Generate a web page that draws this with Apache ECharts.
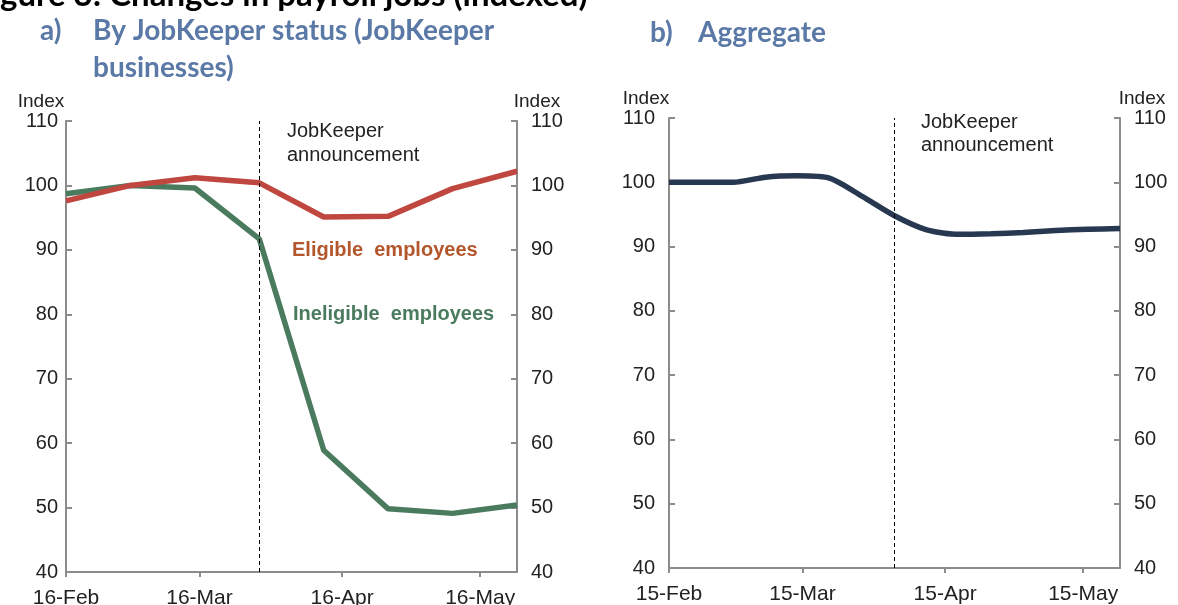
<!DOCTYPE html>
<html>
<head>
<meta charset="utf-8">
<script src="https://cdn.jsdelivr.net/npm/echarts@6/dist/echarts.min.js"></script>
<style>
  html,body{margin:0;padding:0;background:#fff;}
  #main{width:1178px;height:605px;}
</style>
</head>
<body>
<div id="main"></div>
<script>
// panel a) fortnightly, JobKeeper businesses
var datesA = ['2020-02-16','2020-03-01','2020-03-15','2020-03-29','2020-04-12','2020-04-26','2020-05-10','2020-05-24'];
var eligible   = [97.6, 100, 101.2, 100.4, 95.1, 95.2, 99.5, 102.2];
var ineligible = [98.7, 100, 99.6, 91.7, 58.9, 49.8, 49.1, 50.4];
var ticksA = ['2020-02-16','2020-03-16','2020-04-16','2020-05-16'];
var announceA = '2020-03-29';

// panel b) weekly, aggregate
var datesB = ['2020-02-15','2020-02-22','2020-02-29','2020-03-07','2020-03-14','2020-03-21','2020-03-28',
              '2020-04-04','2020-04-11','2020-04-18','2020-04-25','2020-05-02','2020-05-09','2020-05-16','2020-05-23'];
var aggregate = [100, 100, 100, 100.8, 101.0, 100.6, 97.8, 94.8, 92.6, 91.9, 92.0, 92.2, 92.5, 92.7, 92.8];
var ticksB = ['2020-02-15','2020-03-15','2020-04-15','2020-05-15'];
var announceB = '2020-04-04';

var months = ['Jan','Feb','Mar','Apr','May','Jun','Jul','Aug','Sep','Oct','Nov','Dec'];

function day(s, base){
  return Math.round((Date.parse(s) - Date.parse(base)) / 86400000);
}
function pairs(dates, vals){
  return dates.map(function(d, i){ return [day(d, dates[0]), vals[i]]; });
}
function fmt(base){
  return function(v){
    var d = new Date(Date.parse(base) + v * 86400000);
    return d.getUTCDate() + '-' + months[d.getUTCMonth()];
  };
}

var axisCol = '#8c8c8c';
var txtCol = '#222';
var fontTick = '"Liberation Sans", Arial, sans-serif';
var fontTitle = 'Lato, "Open Sans", sans-serif';

function xAxisFor(grid, dates, ticks){
  var vals = ticks.map(function(t){ return day(t, dates[0]); });
  return {
    type: 'value', gridIndex: grid, min: 0, max: day(dates[dates.length-1], dates[0]),
    axisLine: {onZero: false, lineStyle: {color: axisCol, width: 2}},
    axisTick: {show: true, inside: false, length: 5, customValues: vals, lineStyle: {color: axisCol, width: 2}},
    axisLabel: {customValues: vals, formatter: fmt(dates[0]), color: txtCol, fontSize: 21, fontFamily: fontTick, margin: 16},
    splitLine: {show: false}
  };
}
function yAxisFor(grid, pos, gap){
  return {
    type: 'value', gridIndex: grid, position: pos, min: 40, max: 110, interval: 10,
    axisLine: {show: true, lineStyle: {color: axisCol, width: 2}},
    axisTick: {show: true, inside: true, length: 6, lineStyle: {color: axisCol, width: 2}},
    axisLabel: {color: txtCol, fontSize: 20, fontFamily: fontTick, margin: gap},
    splitLine: {show: false}
  };
}
function vline(dates, at){
  return {
    silent: true, symbol: 'none', label: {show: false},
    lineStyle: {color: '#000', type: [4, 3], width: 1},
    data: [{xAxis: day(at, dates[0])}]
  };
}
function txt(x, y, s, opt){
  opt = opt || {};
  return {
    type: 'text', x: x, y: y, silent: true,
    style: {
      text: s, fill: opt.fill || txtCol,
      font: opt.font || ('20px ' + fontTick),
      textAlign: opt.align || 'left', textVerticalAlign: 'middle'
    }
  };
}

var myChart = echarts.init(document.getElementById('main'));

var titleFont = 'bold 28px ' + fontTitle;
var blue = '#5b79a6';

var option = {
  animation: false,
  grid: [
    {left: 66, top: 121, width: 451, height: 451, containLabel: false, outerBoundsMode: 'none'},
    {left: 669, top: 118, width: 451, height: 450, containLabel: false, outerBoundsMode: 'none'}
  ],
  xAxis: [xAxisFor(0, datesA, ticksA), xAxisFor(1, datesB, ticksB)],
  yAxis: [yAxisFor(0, 'left', 8), yAxisFor(0, 'right', 14), yAxisFor(1, 'left', 14), yAxisFor(1, 'right', 14)],
  series: [
    {
      name: 'Eligible employees', type: 'line', xAxisIndex: 0, yAxisIndex: 0,
      data: pairs(datesA, eligible), symbol: 'none',
      lineStyle: {color: '#c0473f', width: 5.5}, z: 3,
      markLine: vline(datesA, announceA)
    },
    {
      name: 'Ineligible employees', type: 'line', xAxisIndex: 0, yAxisIndex: 0,
      data: pairs(datesA, ineligible), symbol: 'none',
      lineStyle: {color: '#4b7b5f', width: 5.5}, z: 2
    },
    {
      name: 'Aggregate', type: 'line', xAxisIndex: 1, yAxisIndex: 2,
      data: pairs(datesB, aggregate), symbol: 'none', smooth: 0.25,
      lineStyle: {color: '#283850', width: 5.5},
      markLine: vline(datesB, announceB)
    }
  ],
  graphic: [
    txt(-27, -5, 'Figure 3: Changes in payroll jobs (indexed)', {font: 'bold 33px ' + fontTitle, fill: '#000'}),
    txt(40, 31, 'a)', {font: titleFont, fill: blue}),
    txt(93, 31, 'By JobKeeper status (JobKeeper', {font: titleFont, fill: blue}),
    txt(93, 68, 'businesses)', {font: titleFont, fill: blue}),
    txt(650, 33, 'b)', {font: titleFont, fill: blue}),
    txt(698, 33, 'Aggregate', {font: titleFont, fill: blue}),
    txt(41, 102, 'Index', {align: 'center', font: '19px ' + fontTick}),
    txt(537, 102, 'Index', {align: 'center', font: '19px ' + fontTick}),
    txt(646, 99, 'Index', {align: 'center', font: '19px ' + fontTick}),
    txt(1142, 99, 'Index', {align: 'center', font: '19px ' + fontTick}),
    txt(287, 131, 'JobKeeper'),
    txt(287, 155, 'announcement'),
    txt(921, 122, 'JobKeeper'),
    txt(921, 145, 'announcement'),
    txt(292, 250, 'Eligible  employees', {font: 'bold 20px ' + fontTick, fill: '#b4562c'}),
    txt(293, 314, 'Ineligible  employees', {font: 'bold 20px ' + fontTick, fill: '#4b7b5f'})
  ]
};

myChart.setOption(option);
</script>
</body>
</html>
